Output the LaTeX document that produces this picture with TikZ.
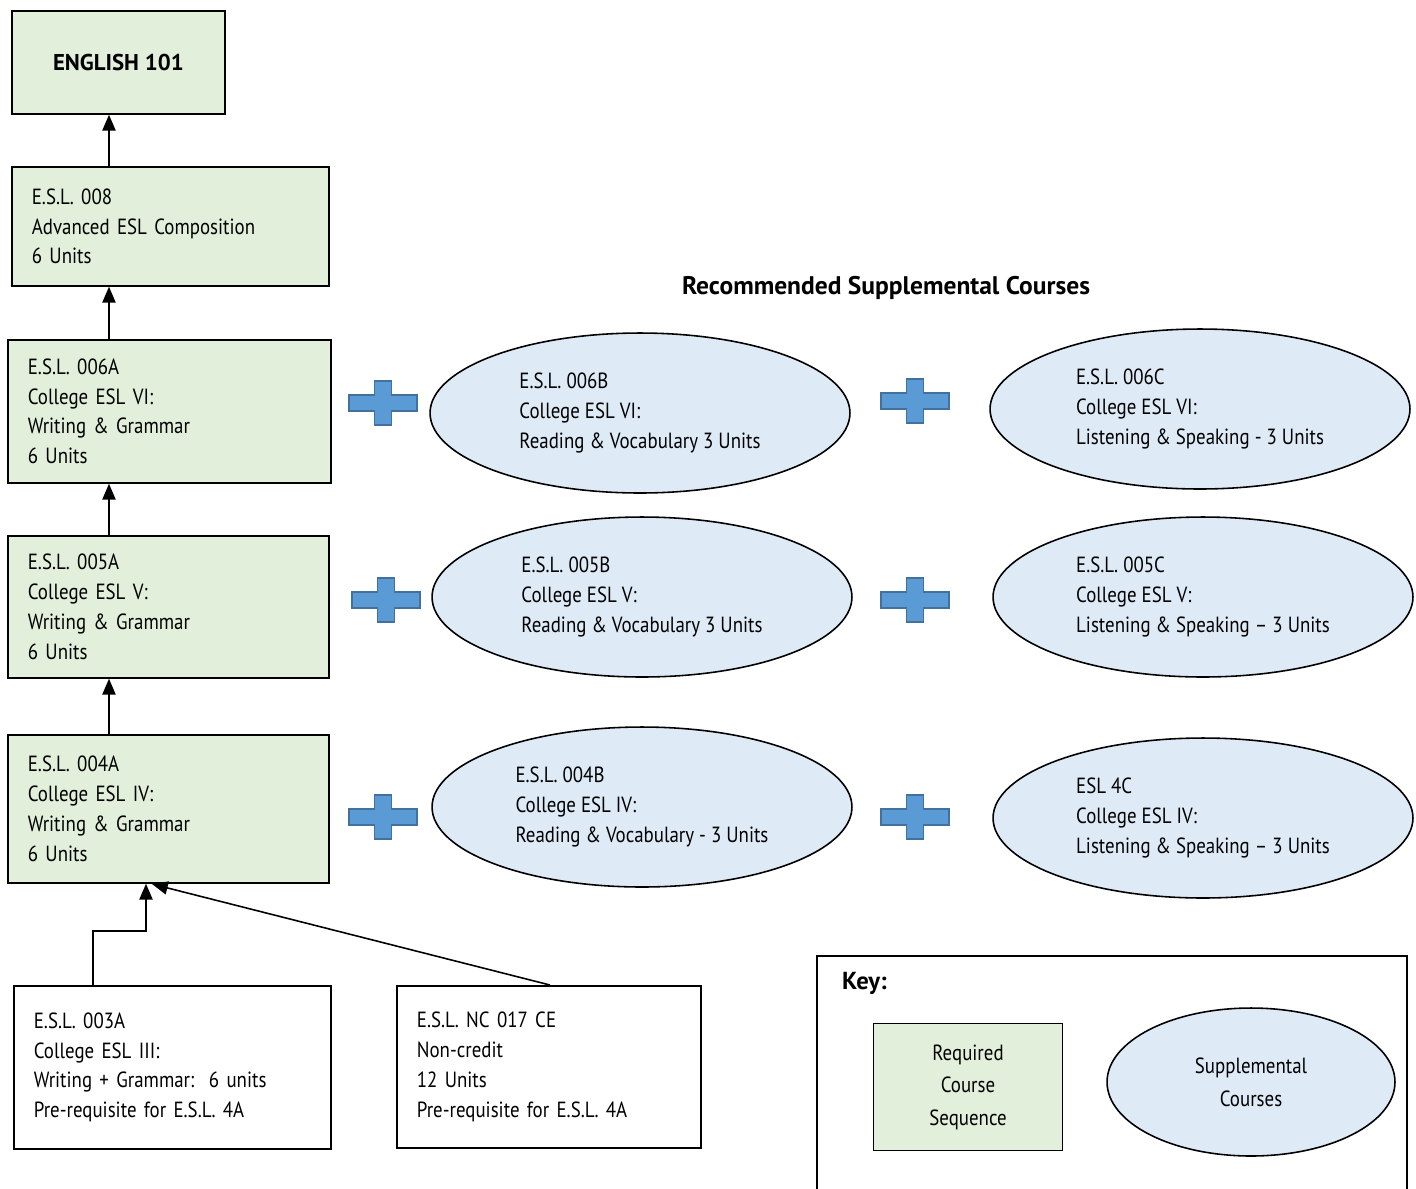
\documentclass[tikz,border=0pt]{standalone}
\usepackage{fontspec}
\setmainfont{PT Sans}
\newfontfamily\narrowfont[FakeStretch=0.86,Ligatures=TeX]{PT Sans}
\usetikzlibrary{arrows.meta}
\usetikzlibrary{shapes.geometric}
\usetikzlibrary{positioning}
\usetikzlibrary{calc}
\definecolor{reqgreen}{HTML}{E2EFDA}
\definecolor{supblue}{HTML}{DEEBF7}
\definecolor{plusfill}{HTML}{5B9BD5}
\definecolor{plusline}{HTML}{41719C}

\begin{document}
\begin{tikzpicture}[x=0.02cm,y=-0.02cm,>={Triangle[length=9pt,width=7.5pt]},
    every node/.style={font=\narrowfont\fontsize{12.5}{17}\selectfont},
    req node/.style={rectangle,draw,line width=1pt,fill=reqgreen,anchor=north west,inner xsep=0.4cm,inner ysep=0pt,align=left},
    pre node/.style={req node,fill=white},
    sup node/.style={ellipse,draw,line width=0.9pt,fill=supblue,minimum width=8.4cm,minimum height=3.2cm,inner sep=0pt,align=left},
    link/.style={->,line width=0.9pt},
    plus/.pic={\draw[fill=plusfill,draw=plusline,line width=1pt]
      (-34,-8) -- (-8.5,-8) -- (-8.5,-22) -- (8.5,-22) -- (8.5,-8) -- (34,-8)
      -- (34,8) -- (8.5,8) -- (8.5,22) -- (-8.5,22) -- (-8.5,8) -- (-34,8) -- cycle;}
    ]
    \useasboundingbox (0,0) rectangle (1416,1188);

    % required sequence
    \node[req node,align=center,minimum width=4.26cm,minimum height=2.06cm,font=\fontsize{13}{17}\selectfont\bfseries](english) at (11,10) {ENGLISH 101};
    \node[req node,text width=5.54cm,minimum height=2.38cm](e008) at (11,166) {E.S.L. 008\\Advanced ESL Composition\\6 Units};
    \node[req node,text width=5.66cm,minimum height=2.86cm](e006a) at (7,339) {E.S.L. 006A\\College ESL VI:\\Writing \& Grammar\\6 Units};
    \node[req node,text width=5.62cm,minimum height=2.84cm](e005a) at (7,535) {E.S.L. 005A\\College ESL V:\\Writing \& Grammar\\6 Units};
    \node[req node,text width=5.62cm,minimum height=2.96cm](e004a) at (7,734) {E.S.L. 004A\\College ESL IV:\\Writing \& Grammar\\6 Units};
    \node[pre node,text width=5.54cm,minimum height=3.26cm](e003a) at (13,985) {E.S.L. 003A\\College ESL III:\\Writing + Grammar:~~6 units\\Pre-requisite for E.S.L. 4A};
    \node[pre node,text width=5.28cm,minimum height=3.24cm](nc017) at (396,985) {E.S.L. NC 017 CE\\Non-credit\\12 Units\\Pre-requisite for E.S.L. 4A};

    % supplemental courses
    \node[font=\fontsize{14.5}{17}\selectfont\bfseries](title) at (886,288) {Recommended Supplemental Courses};
    \node[sup node](e006b) at (640,413) {E.S.L. 006B\\College ESL VI:\\Reading \& Vocabulary 3 Units};
    \node[sup node](e006c) at (1200,409) {E.S.L. 006C\\College ESL VI:\\Listening \& Speaking - 3 Units};
    \node[sup node](e005b) at (642,597) {E.S.L. 005B\\College ESL V:\\Reading \& Vocabulary 3 Units};
    \node[sup node](e005c) at (1203,597) {E.S.L. 005C\\College ESL V:\\Listening \& Speaking -- 3 Units};
    \node[sup node](e004b) at (642,807) {E.S.L. 004B\\College ESL IV:\\Reading \& Vocabulary - 3 Units};
    \node[sup node](e004c) at (1203,818) {ESL 4C\\College ESL IV:\\Listening \& Speaking -- 3 Units};

    \pic at (383,403) {plus};
    \pic at (915,401) {plus};
    \pic at (386,600) {plus};
    \pic at (915,600) {plus};
    \pic at (383,817) {plus};
    \pic at (915,817) {plus};

    % arrows
    \coordinate (spine) at (109,0);
    \coordinate (tap003) at (93,0);
    \coordinate (tap004) at (146,0);
    \coordinate (tap017) at (550,0);
    \coordinate (bend) at (0,931);
    \coordinate (hit017) at (152,884);
    \draw[link] (e008.north -| spine) -- (english.south -| spine);
    \draw[link] (e006a.north -| spine) -- (e008.south -| spine);
    \draw[link] (e005a.north -| spine) -- (e006a.south -| spine);
    \draw[link] (e004a.north -| spine) -- (e005a.south -| spine);
    \draw[link] (e003a.north -| tap003) |- (bend -| tap004) -- (e004a.south -| tap004);
    \draw[link] (nc017.north -| tap017) -- (hit017);

    % key
    \draw[line width=1pt] (817,1190) |- (1407,956) -- (1407,1190);
    \node[anchor=west,font=\fontsize{14}{17}\selectfont\bfseries](keylabel) at (836,983) {Key:};
    \node[rectangle,draw,line width=1pt,fill=reqgreen,minimum width=3.78cm,minimum height=2.54cm,align=center,font=\narrowfont\fontsize{12.5}{18.5}\selectfont](keyreq) at (968,1087) {Required\\Course\\Sequence};
    \node[sup node,minimum width=5.76cm,minimum height=2.96cm,align=center,font=\narrowfont\fontsize{12.5}{19}\selectfont](keysup) at (1251,1082) {Supplemental\\Courses};
\end{tikzpicture}
\end{document}
